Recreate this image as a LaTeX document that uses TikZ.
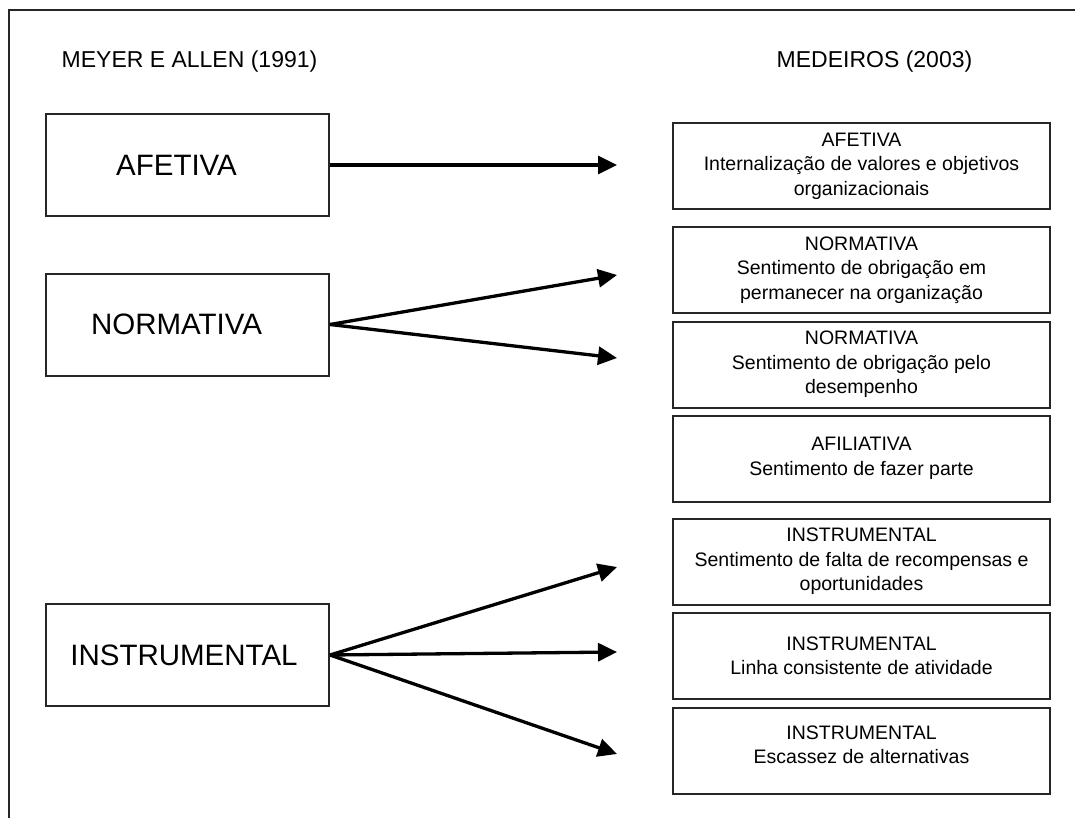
\documentclass[tikz,border=0pt]{standalone}
\usepackage{fontspec}
\setmainfont{Liberation Sans}
\usetikzlibrary{arrows.meta}
\begin{document}
\begin{tikzpicture}[x=1pt,y=-1pt,
  leftbox/.style={draw=black!85, line width=2pt, minimum width=283pt, minimum height=102pt, inner sep=0pt, font=\fontsize{29.5}{35}\selectfont},
  rightbox/.style={draw=black!85, line width=2pt, minimum width=377pt, minimum height=86pt, inner sep=0pt, align=center, font=\fontsize{19.5}{24.5}\selectfont},
  header/.style={font=\fontsize{23}{28}\selectfont, inner sep=0pt},
  conn/.style={line width=3.3pt, -{Triangle[length=19pt,width=18pt]}}
]
\useasboundingbox (0,0) rectangle (1075,818);
\draw[line width=1.6pt, black!85] (9,818) -- (9,10) -- (1075,10);

\node[header] (h1) at (189.5,62) {MEYER E ALLEN (1991)};
\node[header] (h2) at (874.5,62) {MEDEIROS (2003)};

\node[leftbox] (la) at (187.5,165) {\hspace*{-22pt}AFETIVA};
\node[leftbox] (ln) at (187.5,324.5) {\hspace*{-22pt}NORMATIVA};
\node[leftbox] (li) at (187.5,655) {\hspace*{-7pt}INSTRUMENTAL};

\node[rightbox] (r1) at (861.5,166) {AFETIVA\\Internalização de valores e objetivos\\organizacionais};
\node[rightbox] (r2) at (861.5,270) {NORMATIVA\\Sentimento de obrigação em\\permanecer na organização};
\node[rightbox] (r3) at (861.5,364.5) {NORMATIVA\\Sentimento de obrigação pelo\\desempenho};
\node[rightbox] (r4) at (861.5,458.5) {AFILIATIVA\\Sentimento de fazer parte};
\node[rightbox] (r5) at (861.5,561.5) {INSTRUMENTAL\\Sentimento de falta de recompensas e\\oportunidades};
\node[rightbox] (r6) at (861.5,656) {INSTRUMENTAL\\Linha consistente de atividade};
\node[rightbox] (r7) at (861.5,750.5) {INSTRUMENTAL\\Escassez de alternativas\\[-13pt]\mbox{}};

\coordinate (t1) at (617,165);
\coordinate (t2) at (617,275);
\coordinate (t3) at (617,358);
\coordinate (t5) at (617,567);
\coordinate (t6) at (617,652);
\coordinate (t7) at (617,754);

\draw[conn] (la.east) -- (t1);
\draw[conn] (ln.east) -- (t2);
\draw[conn] (ln.east) -- (t3);
\draw[conn] (li.east) -- (t5);
\draw[conn] (li.east) -- (t6);
\draw[conn] (li.east) -- (t7);
\end{tikzpicture}
\end{document}
